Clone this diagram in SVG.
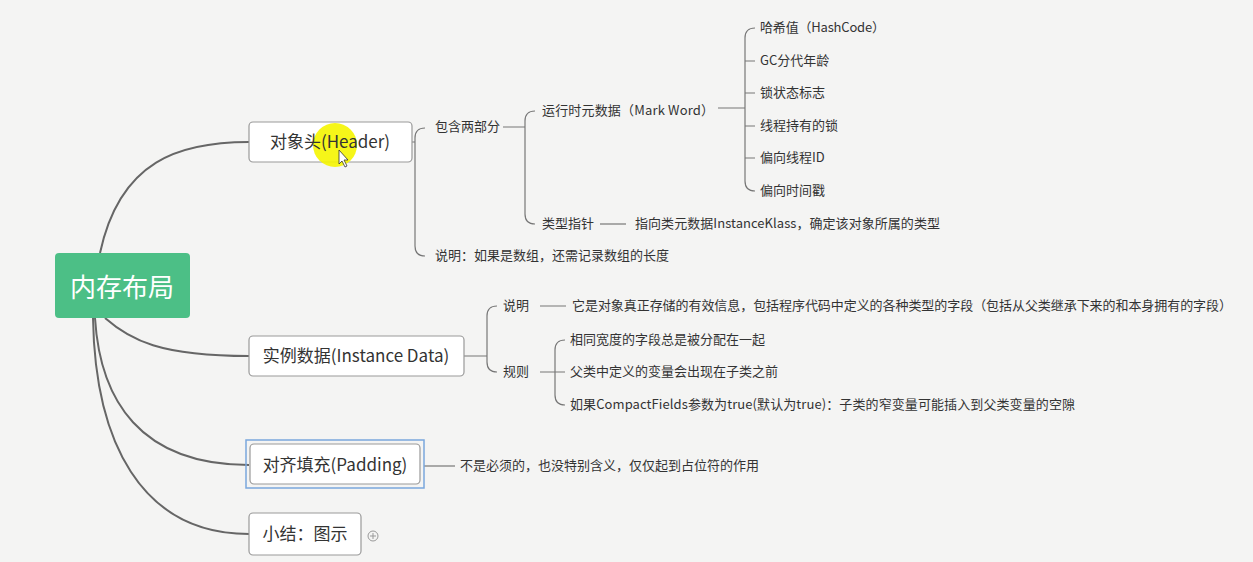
<svg xmlns="http://www.w3.org/2000/svg" width="1253" height="562" viewBox="0 0 1253 562">
<style>
text{font-family:"Noto Sans CJK SC","Noto Sans",sans-serif;fill:#333}
.s{font-size:13px}
.b{font-size:17px}
.box{fill:#fff;stroke:#999;stroke-width:1.2}
.ln{fill:none;stroke:#777;stroke-width:1.2}
.main{fill:none;stroke:#666;stroke-width:2}
</style>
<rect width="1253" height="562" fill="#f4f4f3"/>
<g id="connectors">
<path class="main" d="M100 253 C120 160 180 142 249 142"/>
<path class="main" d="M105 318 C130 340 160 356 249 356"/>
<path class="main" d="M95 318 C100 400 140 465 249 465"/>
<path class="main" d="M93 318 C95 440 140 534 249 534"/>
<path class="ln" d="M412 142 H415 M425 128 Q415 128 415 138 V246 Q415 256 425 256"/>
<path class="ln" d="M503 127 H525 M535 111 Q525 111 525 121 V214 Q525 224 535 224"/>
<path class="ln" d="M718 108 H745 M755 28 Q745 28 745 38 V181 Q745 191 755 191 M745 61 H755 M745 93 H755 M745 126 H755 M745 158 H755"/>
<path class="ln" d="M600 224 H626"/>
<path class="ln" d="M464 356 H487 M497 306 Q487 306 487 316 V362 Q487 372 497 372"/>
<path class="ln" d="M540 306 H566 M540 372 H565 M565 340 Q555 340 555 350 V395 Q555 405 565 405"/>
<path class="ln" d="M424 466 H455"/>
</g>
<g id="root"><rect x="55" y="253" width="135" height="65" rx="4" fill="#4cbf86"/><text x="122" y="297" text-anchor="middle" style="font-size:26px;fill:#fff">内存布局</text></g>
<g id="header"><rect class="box" x="249" y="122" width="163" height="40" rx="4"/><circle cx="335" cy="145" r="22" fill="#f5f500" opacity="0.9"/><text class="b" x="330" y="148" text-anchor="middle">对象头(Header)</text><path d="M339 150 v14 l3-3 3 6 2-1-3-6 4 0z" fill="#fff" stroke="#333" stroke-width="0.8"/></g>
<g id="n1"><text class="s" x="435" y="131">包含两部分</text></g>
<g id="n2"><text class="s" x="435" y="260">说明：如果是数组，还需记录数组的长度</text></g>
<g id="n3"><text class="s" x="542" y="115" textLength="172">运行时元数据（Mark Word）</text></g>
<g id="n4"><text class="s" x="542" y="228">类型指针</text></g>
<g id="n5"><text class="s" x="635" y="228" textLength="305">指向类元数据InstanceKlass，确定该对象所属的类型</text></g>
<g id="m1"><text class="s" x="760" y="32" textLength="125">哈希值（HashCode）</text></g>
<g id="m2"><text class="s" x="760" y="65">GC分代年龄</text></g>
<g id="m3"><text class="s" x="760" y="97">锁状态标志</text></g>
<g id="m4"><text class="s" x="760" y="130">线程持有的锁</text></g>
<g id="m5"><text class="s" x="760" y="162">偏向线程ID</text></g>
<g id="m6"><text class="s" x="760" y="195">偏向时间戳</text></g>
<g id="inst"><rect class="box" x="249" y="336" width="215" height="40" rx="4"/><text class="b" x="356" y="362" text-anchor="middle">实例数据(Instance Data)</text></g>
<g id="i1"><text class="s" x="503" y="310">说明</text></g>
<g id="i2"><text class="s" x="572" y="310" textLength="660">它是对象真正存储的有效信息，包括程序代码中定义的各种类型的字段（包括从父类继承下来的和本身拥有的字段）</text></g>
<g id="i3"><text class="s" x="503" y="376">规则</text></g>
<g id="r1"><text class="s" x="570" y="344">相同宽度的字段总是被分配在一起</text></g>
<g id="r2"><text class="s" x="570" y="376">父类中定义的变量会出现在子类之前</text></g>
<g id="r3"><text class="s" x="570" y="409" textLength="505">如果CompactFields参数为true(默认为true)：子类的窄变量可能插入到父类变量的空隙</text></g>
<g id="pad"><rect x="246" y="440" width="178" height="48" fill="none" stroke="#7aa7dd" stroke-width="1.5"/><rect class="box" x="250" y="444" width="170" height="40" rx="4"/><text class="b" x="335" y="471" text-anchor="middle">对齐填充(Padding)</text></g>
<g id="p1"><text class="s" x="460" y="470">不是必须的，也没特别含义，仅仅起到占位符的作用</text></g>
<g id="sum"><rect class="box" x="249" y="513" width="112" height="42" rx="4"/><text class="b" x="305" y="540" text-anchor="middle">小结：图示</text><circle cx="373" cy="536" r="5" fill="none" stroke="#999"/><path d="M370 536h6M373 533v6" stroke="#999"/></g>
</svg>
